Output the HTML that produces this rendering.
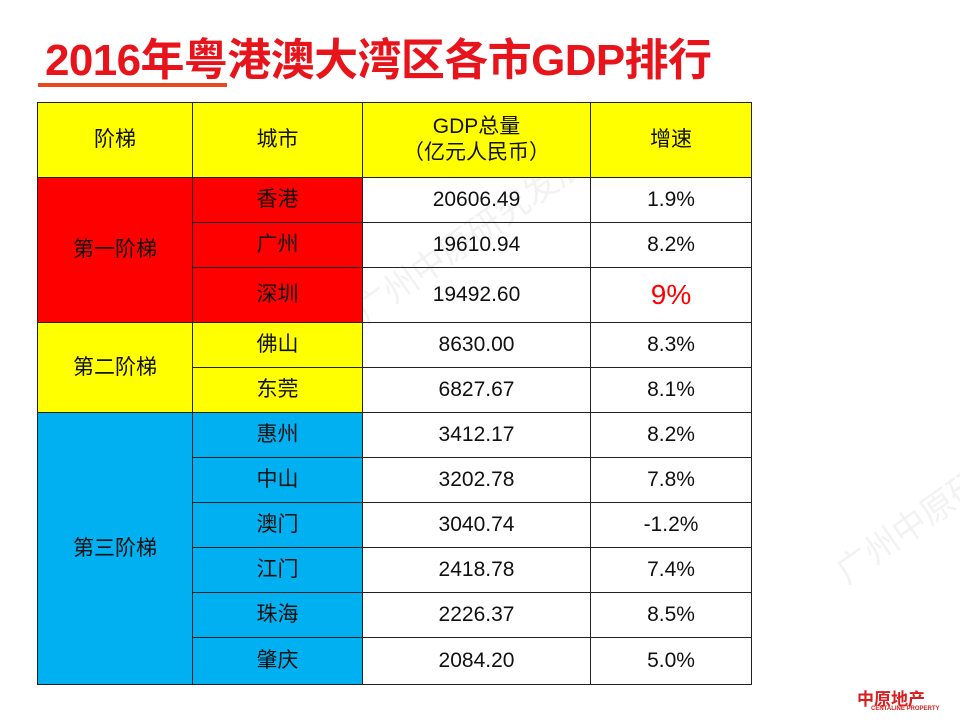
<!DOCTYPE html>
<html><head><meta charset="utf-8"><style>
html,body{margin:0;padding:0;width:960px;height:720px;background:#fff;overflow:hidden;position:relative;font-family:"Liberation Sans","Noto Sans CJK SC",sans-serif}
#title{position:absolute;left:45px;top:24px;font-size:44px;font-weight:bold;color:#e8141b;white-space:nowrap;letter-spacing:-0.6px}
#uline{position:absolute;left:38px;top:83px;width:189px;height:4px;background:#e84a1e}
table{position:absolute;left:37px;top:102px;border-collapse:collapse;table-layout:fixed}
td{border:1px solid #222;text-align:center;font-size:21px;color:#111;padding:0;line-height:26px}
.y{background:#ffff00}.r{background:#ff0000}.b{background:#00b0f0}
.wm{position:absolute;color:rgba(150,150,150,0.12);font-size:34px;transform:rotate(-35deg);white-space:nowrap}
#logo{position:absolute;left:857px;top:685px;color:#d81e1e;font-weight:bold;font-size:17px;white-space:nowrap}
#logo small{display:block;font-size:6px;margin-top:-4px;margin-left:14px}
</style></head><body>
<div class="wm" style="left:330px;top:200px">广州中原研究发展部</div>
<div class="wm" style="left:820px;top:490px">广州中原研究</div>
<div id="title">2016年粤港澳大湾区各市GDP排行</div>
<div id="uline"></div>
<table>
<colgroup><col style="width:155px"><col style="width:170px"><col style="width:228px"><col style="width:161px"></colgroup>
<tr style="height:75px">
<td class="y">阶梯</td>
<td class="y">城市</td>
<td class="y">GDP总量<br>（亿元人民币）</td>
<td class="y">增速</td></tr>
<tr style="height:45px"><td class="r" rowspan="3">第一阶梯</td><td class="r">香港</td><td>20606.49</td><td>1.9%</td></tr>
<tr style="height:45px"><td class="r">广州</td><td>19610.94</td><td>8.2%</td></tr>
<tr style="height:55px"><td class="r">深圳</td><td>19492.60</td><td style="color:#ff0000;font-size:28px">9%</td></tr>
<tr style="height:45px"><td class="y" rowspan="2">第二阶梯</td><td class="y">佛山</td><td>8630.00</td><td>8.3%</td></tr>
<tr style="height:45px"><td class="y">东莞</td><td>6827.67</td><td>8.1%</td></tr>
<tr style="height:45px"><td class="b" rowspan="6">第三阶梯</td><td class="b">惠州</td><td>3412.17</td><td>8.2%</td></tr>
<tr style="height:45px"><td class="b">中山</td><td>3202.78</td><td>7.8%</td></tr>
<tr style="height:45px"><td class="b">澳门</td><td>3040.74</td><td>-1.2%</td></tr>
<tr style="height:45px"><td class="b">江门</td><td>2418.78</td><td>7.4%</td></tr>
<tr style="height:45px"><td class="b">珠海</td><td>2226.37</td><td>8.5%</td></tr>
<tr style="height:47px"><td class="b">肇庆</td><td>2084.20</td><td>5.0%</td></tr>
</table>
<div id="logo">中原地产<small>CENTALINE PROPERTY</small></div>
</body></html>
